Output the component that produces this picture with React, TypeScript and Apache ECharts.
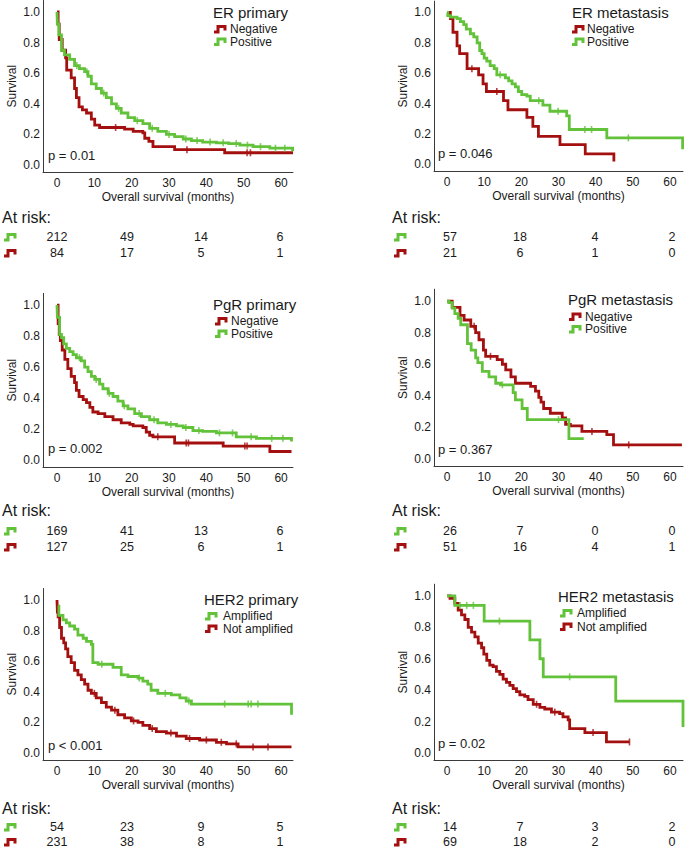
import React, { useEffect, useRef } from "react";
import * as echarts from "echarts";

const FONT = '"Liberation Sans", Arial, Helvetica, sans-serif';
const GREEN = "#62c23a";
const RED = "#a3100f";
const INK = "#1a1a1a";
const AXIS = "#3a3a3a";

// ---------- ER primary ----------
const erPrimNegT = [0, 0.3, 0.6, 1.4, 2.3, 2.6, 3.8, 4.7, 5.2, 5.9, 6.8, 7.9, 9.2, 10.1, 11.4, 18.1, 20.4, 23.0, 23.5, 24.6, 25.7, 31.5, 44.9, 63.2];
const erPrimNegS = [1.0, 0.92, 0.82, 0.75, 0.7, 0.62, 0.57, 0.5, 0.44, 0.38, 0.36, 0.34, 0.3, 0.26, 0.245, 0.235, 0.22, 0.21, 0.175, 0.155, 0.12, 0.1, 0.08, 0.08];
const erPrimNegCens = [15.7, 34.8, 50.9, 51.8];
const erPrimPosT = [0, 0.1, 0.5, 1.2, 2.0, 3.4, 4.7, 6.0, 7.4, 8.3, 9.2, 10.5, 11.9, 13.2, 14.6, 15.9, 17.2, 19.0, 20.8, 23.0, 24.8, 27.0, 29.3, 31.5, 33.8, 36.0, 39.0, 42.7, 46.0, 49.0, 52.5, 57.0, 63.1];
const erPrimPosS = [1.0, 0.92, 0.85, 0.75, 0.72, 0.69, 0.65, 0.63, 0.61, 0.58, 0.53, 0.5, 0.47, 0.44, 0.4, 0.37, 0.34, 0.31, 0.29, 0.27, 0.24, 0.22, 0.2, 0.185, 0.17, 0.16, 0.15, 0.145, 0.14, 0.13, 0.12, 0.11, 0.09];
const erPrimPosCens = [5.3, 8.0, 12.5, 16.5, 21.5, 25.5, 30.0, 34.5, 37.5, 41.0, 44.5, 48.0, 51.0, 54.5, 58.5, 61.0];

// ---------- ER metastasis ----------
const erMetNegT = [0, 0.9, 1.6, 2.7, 3.4, 5.4, 8.5, 9.7, 10.6, 15.2, 16.4, 21.5, 23.1, 24.6, 30.4, 37.2, 44.9];
const erMetNegS = [1.0, 0.96, 0.87, 0.78, 0.73, 0.63, 0.59, 0.53, 0.48, 0.42, 0.36, 0.31, 0.25, 0.185, 0.13, 0.07, 0.02];
const erMetNegCens = [6.7, 13.4];
const erMetPosT = [0, 0.2, 0.9, 2.7, 3.6, 4.5, 5.2, 6.3, 7.2, 8.1, 8.8, 9.4, 10.0, 10.7, 11.6, 12.7, 13.4, 15.7, 16.6, 17.5, 18.4, 19.2, 20.1, 21.5, 22.4, 25.8, 27.7, 32.2, 32.9, 43.0, 63.4];
const erMetPosS = [1.0, 0.98, 0.97, 0.96, 0.94, 0.92, 0.89, 0.86, 0.84, 0.8, 0.75, 0.73, 0.7, 0.68, 0.65, 0.63, 0.59, 0.57, 0.55, 0.53, 0.51, 0.48, 0.46, 0.45, 0.42, 0.39, 0.35, 0.32, 0.23, 0.175, 0.1];
const erMetPosCens = [14.3, 24.7, 29.9, 37.1, 38.9, 48.8];

// ---------- PgR primary ----------
const pgrPrimNegT = [0, 0.3, 0.6, 0.9, 1.4, 2.1, 2.9, 3.8, 4.7, 5.2, 5.9, 7.0, 7.9, 8.8, 9.6, 11.0, 12.8, 15.0, 17.2, 19.5, 20.4, 23.0, 23.9, 24.8, 25.7, 31.5, 44.5, 57.0, 62.8];
const pgrPrimNegS = [1.0, 0.88, 0.81, 0.77, 0.71, 0.65, 0.59, 0.54, 0.5, 0.45, 0.41, 0.39, 0.37, 0.34, 0.31, 0.3, 0.28, 0.26, 0.24, 0.23, 0.22, 0.21, 0.18, 0.16, 0.15, 0.11, 0.09, 0.055, 0.055];
const pgrPrimNegCens = [27.0, 34.6, 35.2, 50.3, 50.9];
const pgrPrimPosT = [0, 0.1, 0.7, 1.2, 1.8, 2.5, 3.4, 4.3, 5.2, 6.5, 7.4, 8.3, 9.2, 10.1, 11.4, 12.3, 13.7, 15.0, 16.3, 17.7, 19.0, 20.8, 22.6, 24.8, 27.0, 29.3, 32.0, 33.8, 36.4, 39.0, 42.7, 48.0, 53.4, 62.8];
const pgrPrimPosS = [1.0, 0.92, 0.81, 0.79, 0.75, 0.72, 0.7, 0.68, 0.66, 0.64, 0.6, 0.57, 0.54, 0.52, 0.49, 0.46, 0.43, 0.41, 0.38, 0.35, 0.33, 0.3, 0.28, 0.26, 0.24, 0.23, 0.22, 0.21, 0.19, 0.185, 0.175, 0.15, 0.14, 0.12];
const pgrPrimPosCens = [6.0, 10.5, 14.0, 18.0, 22.0, 26.0, 30.5, 34.5, 38.0, 43.5, 47.0, 52.0, 57.5, 60.5];

// ---------- PgR metastasis ----------
const pgrMetNegT = [0, 1.4, 3.5, 4.6, 6.4, 7.7, 8.6, 9.8, 10.4, 13.5, 14.9, 15.8, 17.2, 18.4, 22.5, 23.8, 24.7, 25.3, 26.0, 27.8, 31.0, 31.9, 33.2, 36.3, 43.0, 44.8, 63.2];
const pgrMetNegS = [1.0, 0.96, 0.91, 0.88, 0.84, 0.8, 0.755, 0.69, 0.65, 0.63, 0.6, 0.565, 0.52, 0.48, 0.46, 0.43, 0.39, 0.36, 0.32, 0.29, 0.26, 0.22, 0.21, 0.175, 0.155, 0.09, 0.09];
const pgrMetNegCens = [7.3, 11.7, 39.0, 48.9];
const pgrMetPosT = [0, 0.5, 1.4, 2.1, 3.0, 3.7, 5.5, 6.5, 7.7, 8.3, 9.5, 11.3, 13.1, 14.4, 17.8, 18.4, 20.2, 21.6, 32.8, 36.8];
const pgrMetPosS = [1.0, 0.99, 0.955, 0.92, 0.89, 0.85, 0.73, 0.69, 0.64, 0.61, 0.555, 0.52, 0.48, 0.47, 0.42, 0.375, 0.32, 0.25, 0.13, 0.13];
const pgrMetPosCens = [14.9, 30.0];

// ---------- HER2 primary ----------
const her2PrimNotT = [0, 0.1, 0.3, 0.7, 1.2, 1.8, 2.3, 2.9, 3.8, 4.7, 5.6, 6.5, 7.4, 8.3, 9.2, 10.5, 11.9, 13.2, 14.6, 16.3, 18.1, 19.9, 21.7, 23.0, 24.8, 26.6, 29.3, 32.0, 34.6, 38.2, 42.7, 45.4, 48.5, 62.8];
const her2PrimNotS = [1.0, 0.92, 0.89, 0.82, 0.75, 0.72, 0.68, 0.63, 0.59, 0.54, 0.51, 0.48, 0.45, 0.41, 0.39, 0.36, 0.33, 0.3, 0.28, 0.25, 0.23, 0.21, 0.2, 0.18, 0.16, 0.14, 0.13, 0.11, 0.095, 0.085, 0.07, 0.06, 0.04, 0.04];
const her2PrimNotCens = [10.0, 15.5, 20.5, 25.5, 30.5, 35.5, 40.0, 44.0, 48.0, 52.5, 56.5];
const her2PrimAmpT = [0.2, 0.5, 1.6, 2.5, 3.4, 4.7, 5.6, 7.0, 7.9, 9.2, 9.6, 11.0, 15.0, 17.2, 19.0, 21.7, 23.0, 24.3, 25.2, 27.0, 30.6, 32.9, 34.6, 36.0, 62.8];
const her2PrimAmpS = [0.96, 0.9, 0.87, 0.85, 0.83, 0.81, 0.77, 0.75, 0.73, 0.71, 0.59, 0.58, 0.56, 0.51, 0.5, 0.49, 0.47, 0.45, 0.41, 0.39, 0.38, 0.36, 0.34, 0.32, 0.25];
const her2PrimAmpCens = [12.0, 22.0, 29.0, 35.3, 44.9, 51.2, 52.0, 53.8];

// ---------- HER2 metastasis ----------
const her2MetNotT = [0, 0.8, 2.1, 3.0, 3.9, 4.8, 5.7, 6.6, 7.5, 8.4, 9.3, 9.9, 10.7, 11.5, 12.4, 13.3, 14.2, 15.1, 16.0, 16.9, 17.8, 18.7, 19.6, 20.9, 21.8, 23.2, 25.0, 26.3, 28.1, 30.3, 31.2, 32.6, 33.0, 37.1, 42.9, 49.1];
const her2MetNotS = [1.0, 0.985, 0.953, 0.91, 0.88, 0.85, 0.8, 0.77, 0.74, 0.7, 0.67, 0.63, 0.59, 0.56, 0.55, 0.52, 0.5, 0.47, 0.45, 0.43, 0.41, 0.39, 0.37, 0.36, 0.34, 0.31, 0.29, 0.28, 0.26, 0.25, 0.23, 0.21, 0.155, 0.13, 0.07, 0.07];
const her2MetNotCens = [24.1, 29.0, 39.3, 49.1];
const her2MetAmpT = [0, 2.1, 10.0, 22.3, 25.0, 25.9, 45.4, 63.5];
const her2MetAmpS = [1.0, 0.94, 0.84, 0.72, 0.6, 0.485, 0.33, 0.165];
const her2MetAmpCens = [3.5, 5.3, 7.1, 14.1, 33.0];

// ---------- numbers at risk (0, 20, 40, 60 months) ----------
const erPrimRiskPos = [212, 49, 14, 6];
const erPrimRiskNeg = [84, 17, 5, 1];
const erMetRiskPos = [57, 18, 4, 2];
const erMetRiskNeg = [21, 6, 1, 0];
const pgrPrimRiskPos = [169, 41, 13, 6];
const pgrPrimRiskNeg = [127, 25, 6, 1];
const pgrMetRiskPos = [26, 7, 0, 0];
const pgrMetRiskNeg = [51, 16, 4, 1];
const her2PrimRiskAmp = [54, 23, 9, 5];
const her2PrimRiskNot = [231, 38, 8, 1];
const her2MetRiskAmp = [14, 7, 3, 2];
const her2MetRiskNot = [69, 18, 2, 0];

const xTicks = [0, 10, 20, 30, 40, 50, 60];
const yTicks = [0, 0.2, 0.4, 0.6, 0.8, 1.0];

type Curve = { t: number[]; s: number[]; cens: number[]; color: string };
type Panel = {
  title: string;
  p: string;
  grid: { left: number; top: number; width: number; height: number };
  xRange: [number, number];
  red: Curve;
  green: Curve;
  legend: { label: string; color: string }[];
  titleXY: [number, number];
  legendY: [number, number];
  iconX: number;
  textX: number;
  pXY: [number, number];
  riskX: number;
  riskY: [number, number, number];
  riskCols: number[];
  riskGreen: number[];
  riskRed: number[];
};

const LEFT_COLS = [57, 127, 201, 280];
const RIGHT_COLS = [450, 520, 595, 672];

const panels: Panel[] = [
  {
    title: "ER primary", p: "p = 0.01",
    grid: { left: 43, top: 0.5, width: 250, height: 171.4 }, xRange: [-3.75, 63.2],
    red: { t: erPrimNegT, s: erPrimNegS, cens: erPrimNegCens, color: RED },
    green: { t: erPrimPosT, s: erPrimPosS, cens: erPrimPosCens, color: GREEN },
    legend: [{ label: "Negative", color: RED }, { label: "Positive", color: GREEN }],
    titleXY: [213, 12], legendY: [29, 41.5], iconX: 214, textX: 230, pXY: [48, 155],
    riskX: 2, riskY: [217, 237, 253], riskCols: LEFT_COLS, riskGreen: erPrimRiskPos, riskRed: erPrimRiskNeg,
  },
  {
    title: "ER metastasis", p: "p = 0.046",
    grid: { left: 434, top: 1.1, width: 249, height: 170.2 }, xRange: [-3.5, 63.5],
    red: { t: erMetNegT, s: erMetNegS, cens: erMetNegCens, color: RED },
    green: { t: erMetPosT, s: erMetPosS, cens: erMetPosCens, color: GREEN },
    legend: [{ label: "Negative", color: RED }, { label: "Positive", color: GREEN }],
    titleXY: [572, 12], legendY: [29, 41.5], iconX: 572, textX: 587, pXY: [438, 153],
    riskX: 392, riskY: [217, 237, 253], riskCols: RIGHT_COLS, riskGreen: erMetRiskPos, riskRed: erMetRiskNeg,
  },
  {
    title: "PgR primary", p: "p = 0.002",
    grid: { left: 43, top: 293.4, width: 250, height: 173.6 }, xRange: [-3.75, 63.2],
    red: { t: pgrPrimNegT, s: pgrPrimNegS, cens: pgrPrimNegCens, color: RED },
    green: { t: pgrPrimPosT, s: pgrPrimPosS, cens: pgrPrimPosCens, color: GREEN },
    legend: [{ label: "Negative", color: RED }, { label: "Positive", color: GREEN }],
    titleXY: [213, 304], legendY: [321, 333.5], iconX: 215, textX: 231, pXY: [48, 448],
    riskX: 2, riskY: [510, 531, 547], riskCols: LEFT_COLS, riskGreen: pgrPrimRiskPos, riskRed: pgrPrimRiskNeg,
  },
  {
    title: "PgR metastasis", p: "p = 0.367",
    grid: { left: 434, top: 289.2, width: 249, height: 177 }, xRange: [-3.5, 63.5],
    red: { t: pgrMetNegT, s: pgrMetNegS, cens: pgrMetNegCens, color: RED },
    green: { t: pgrMetPosT, s: pgrMetPosS, cens: pgrMetPosCens, color: GREEN },
    legend: [{ label: "Negative", color: RED }, { label: "Positive", color: GREEN }],
    titleXY: [568, 299], legendY: [316.5, 329], iconX: 569, textX: 585, pXY: [438, 449],
    riskX: 392, riskY: [510, 531, 547], riskCols: RIGHT_COLS, riskGreen: pgrMetRiskPos, riskRed: pgrMetRiskNeg,
  },
  {
    title: "HER2 primary", p: "p < 0.001",
    grid: { left: 43, top: 588.5, width: 250, height: 171.4 }, xRange: [-3.75, 63.2],
    red: { t: her2PrimNotT, s: her2PrimNotS, cens: her2PrimNotCens, color: RED },
    green: { t: her2PrimAmpT, s: her2PrimAmpS, cens: her2PrimAmpCens, color: GREEN },
    legend: [{ label: "Amplified", color: GREEN }, { label: "Not amplified", color: RED }],
    titleXY: [204, 599], legendY: [616, 628.5], iconX: 205, textX: 223, pXY: [48, 745],
    riskX: 2, riskY: [808, 827, 842], riskCols: LEFT_COLS, riskGreen: her2PrimRiskAmp, riskRed: her2PrimRiskNot,
  },
  {
    title: "HER2 metastasis", p: "p = 0.02",
    grid: { left: 434, top: 584.2, width: 249, height: 175.8 }, xRange: [-3.5, 63.5],
    red: { t: her2MetNotT, s: her2MetNotS, cens: her2MetNotCens, color: RED },
    green: { t: her2MetAmpT, s: her2MetAmpS, cens: her2MetAmpCens, color: GREEN },
    legend: [{ label: "Amplified", color: GREEN }, { label: "Not amplified", color: RED }],
    titleXY: [558, 596], legendY: [613, 626.5], iconX: 560, textX: 577, pXY: [438, 743],
    riskX: 392, riskY: [808, 827, 842], riskCols: RIGHT_COLS, riskGreen: her2MetRiskAmp, riskRed: her2MetRiskNot,
  },
];

function stepData(c: Curve) {
  return c.t.map((t, i) => [t, c.s[i]]);
}

// survival value held by the step curve at time ct
function censorData(c: Curve) {
  return c.cens.map((ct) => {
    let v = c.s[0];
    for (let i = 0; i < c.t.length; i++) if (c.t[i] <= ct) v = c.s[i];
    return [ct, v];
  });
}

// small step-shaped key glyph
function stepIcon(x: number, y: number, color: string) {
  return {
    type: "polyline",
    shape: { points: [[x, y + 3], [x + 4, y + 3], [x + 4, y - 2.5], [x + 11, y - 2.5], [x + 11, y + 1.5]] },
    style: { stroke: color, lineWidth: 3, fill: null },
    silent: true,
  };
}

function txt(x: number, y: number, text: string, size: number, align = "left") {
  return {
    type: "text",
    x,
    y,
    silent: true,
    style: { text, fill: INK, font: `${size}px ${FONT}`, align, verticalAlign: "middle", lineHeight: size },
  };
}

function buildOption() {
  const grid: any[] = [];
  const xAxis: any[] = [];
  const yAxis: any[] = [];
  const series: any[] = [];
  const graphic: any[] = [];

  panels.forEach((p, i) => {
    grid.push({ ...p.grid, containLabel: false });
    xAxis.push({
      type: "value", gridIndex: i, min: p.xRange[0], max: p.xRange[1],
      axisLine: { show: true, onZero: false, lineStyle: { color: AXIS, width: 1 } },
      axisTick: { show: false }, splitLine: { show: false },
      axisLabel: { customValues: xTicks, margin: 5, fontSize: 12, color: INK, fontFamily: FONT },
      name: "Overall survival (months)", nameLocation: "middle", nameGap: 19,
      nameTextStyle: { fontSize: 12, color: INK, fontFamily: FONT },
    });
    yAxis.push({
      type: "value", gridIndex: i, min: -0.045, max: 1.075,
      axisLine: { show: true, onZero: false, lineStyle: { color: AXIS, width: 1 } },
      axisTick: { show: false }, splitLine: { show: false },
      axisLabel: {
        customValues: yTicks, margin: 3, fontSize: 12, color: INK, fontFamily: FONT,
        formatter: (v: number) => v.toFixed(1),
      },
      name: "Survival", nameLocation: "middle", nameGap: 25,
      nameTextStyle: { fontSize: 12, color: INK, fontFamily: FONT },
    });

    [p.red, p.green].forEach((c, k) => {
      series.push({
        type: "line", xAxisIndex: i, yAxisIndex: i, step: "end",
        data: stepData(c), showSymbol: false, silent: true, z: 2 + k,
        lineStyle: { color: c.color, width: 2.8, cap: "butt", join: "miter" },
      });
      series.push({
        type: "scatter", xAxisIndex: i, yAxisIndex: i, data: censorData(c),
        symbol: "rect", symbolSize: [1.6, 7], silent: true, z: 2 + k,
        itemStyle: { color: c.color },
      });
    });

    graphic.push(txt(p.titleXY[0], p.titleXY[1], p.title, 15));
    p.legend.forEach((l, k) => {
      graphic.push(stepIcon(p.iconX, p.legendY[k], l.color));
      graphic.push(txt(p.textX, p.legendY[k], l.label, 12));
    });
    graphic.push(txt(p.pXY[0], p.pXY[1], p.p, 13));

    graphic.push(txt(p.riskX, p.riskY[0], "At risk:", 16));
    graphic.push(stepIcon(p.riskX + 2, p.riskY[1], GREEN));
    graphic.push(stepIcon(p.riskX + 2, p.riskY[2], RED));
    p.riskCols.forEach((x, k) => {
      graphic.push(txt(x, p.riskY[1], String(p.riskGreen[k]), 12.5, "center"));
      graphic.push(txt(x, p.riskY[2], String(p.riskRed[k]), 12.5, "center"));
    });
  });

  return {
    animation: false,
    backgroundColor: "#ffffff",
    textStyle: { fontFamily: FONT },
    grid, xAxis, yAxis, series, graphic,
  };
}

export default function App() {
  const ref = useRef<HTMLDivElement>(null);
  useEffect(() => {
    if (!ref.current) return;
    const chart = echarts.init(ref.current, undefined, { renderer: "svg" });
    chart.setOption(buildOption() as any);
    return () => chart.dispose();
  }, []);
  return (
    <div
      ref={ref}
      style={{ position: "fixed", left: 0, top: 0, width: 685, height: 849, background: "#fff" }}
    />
  );
}
